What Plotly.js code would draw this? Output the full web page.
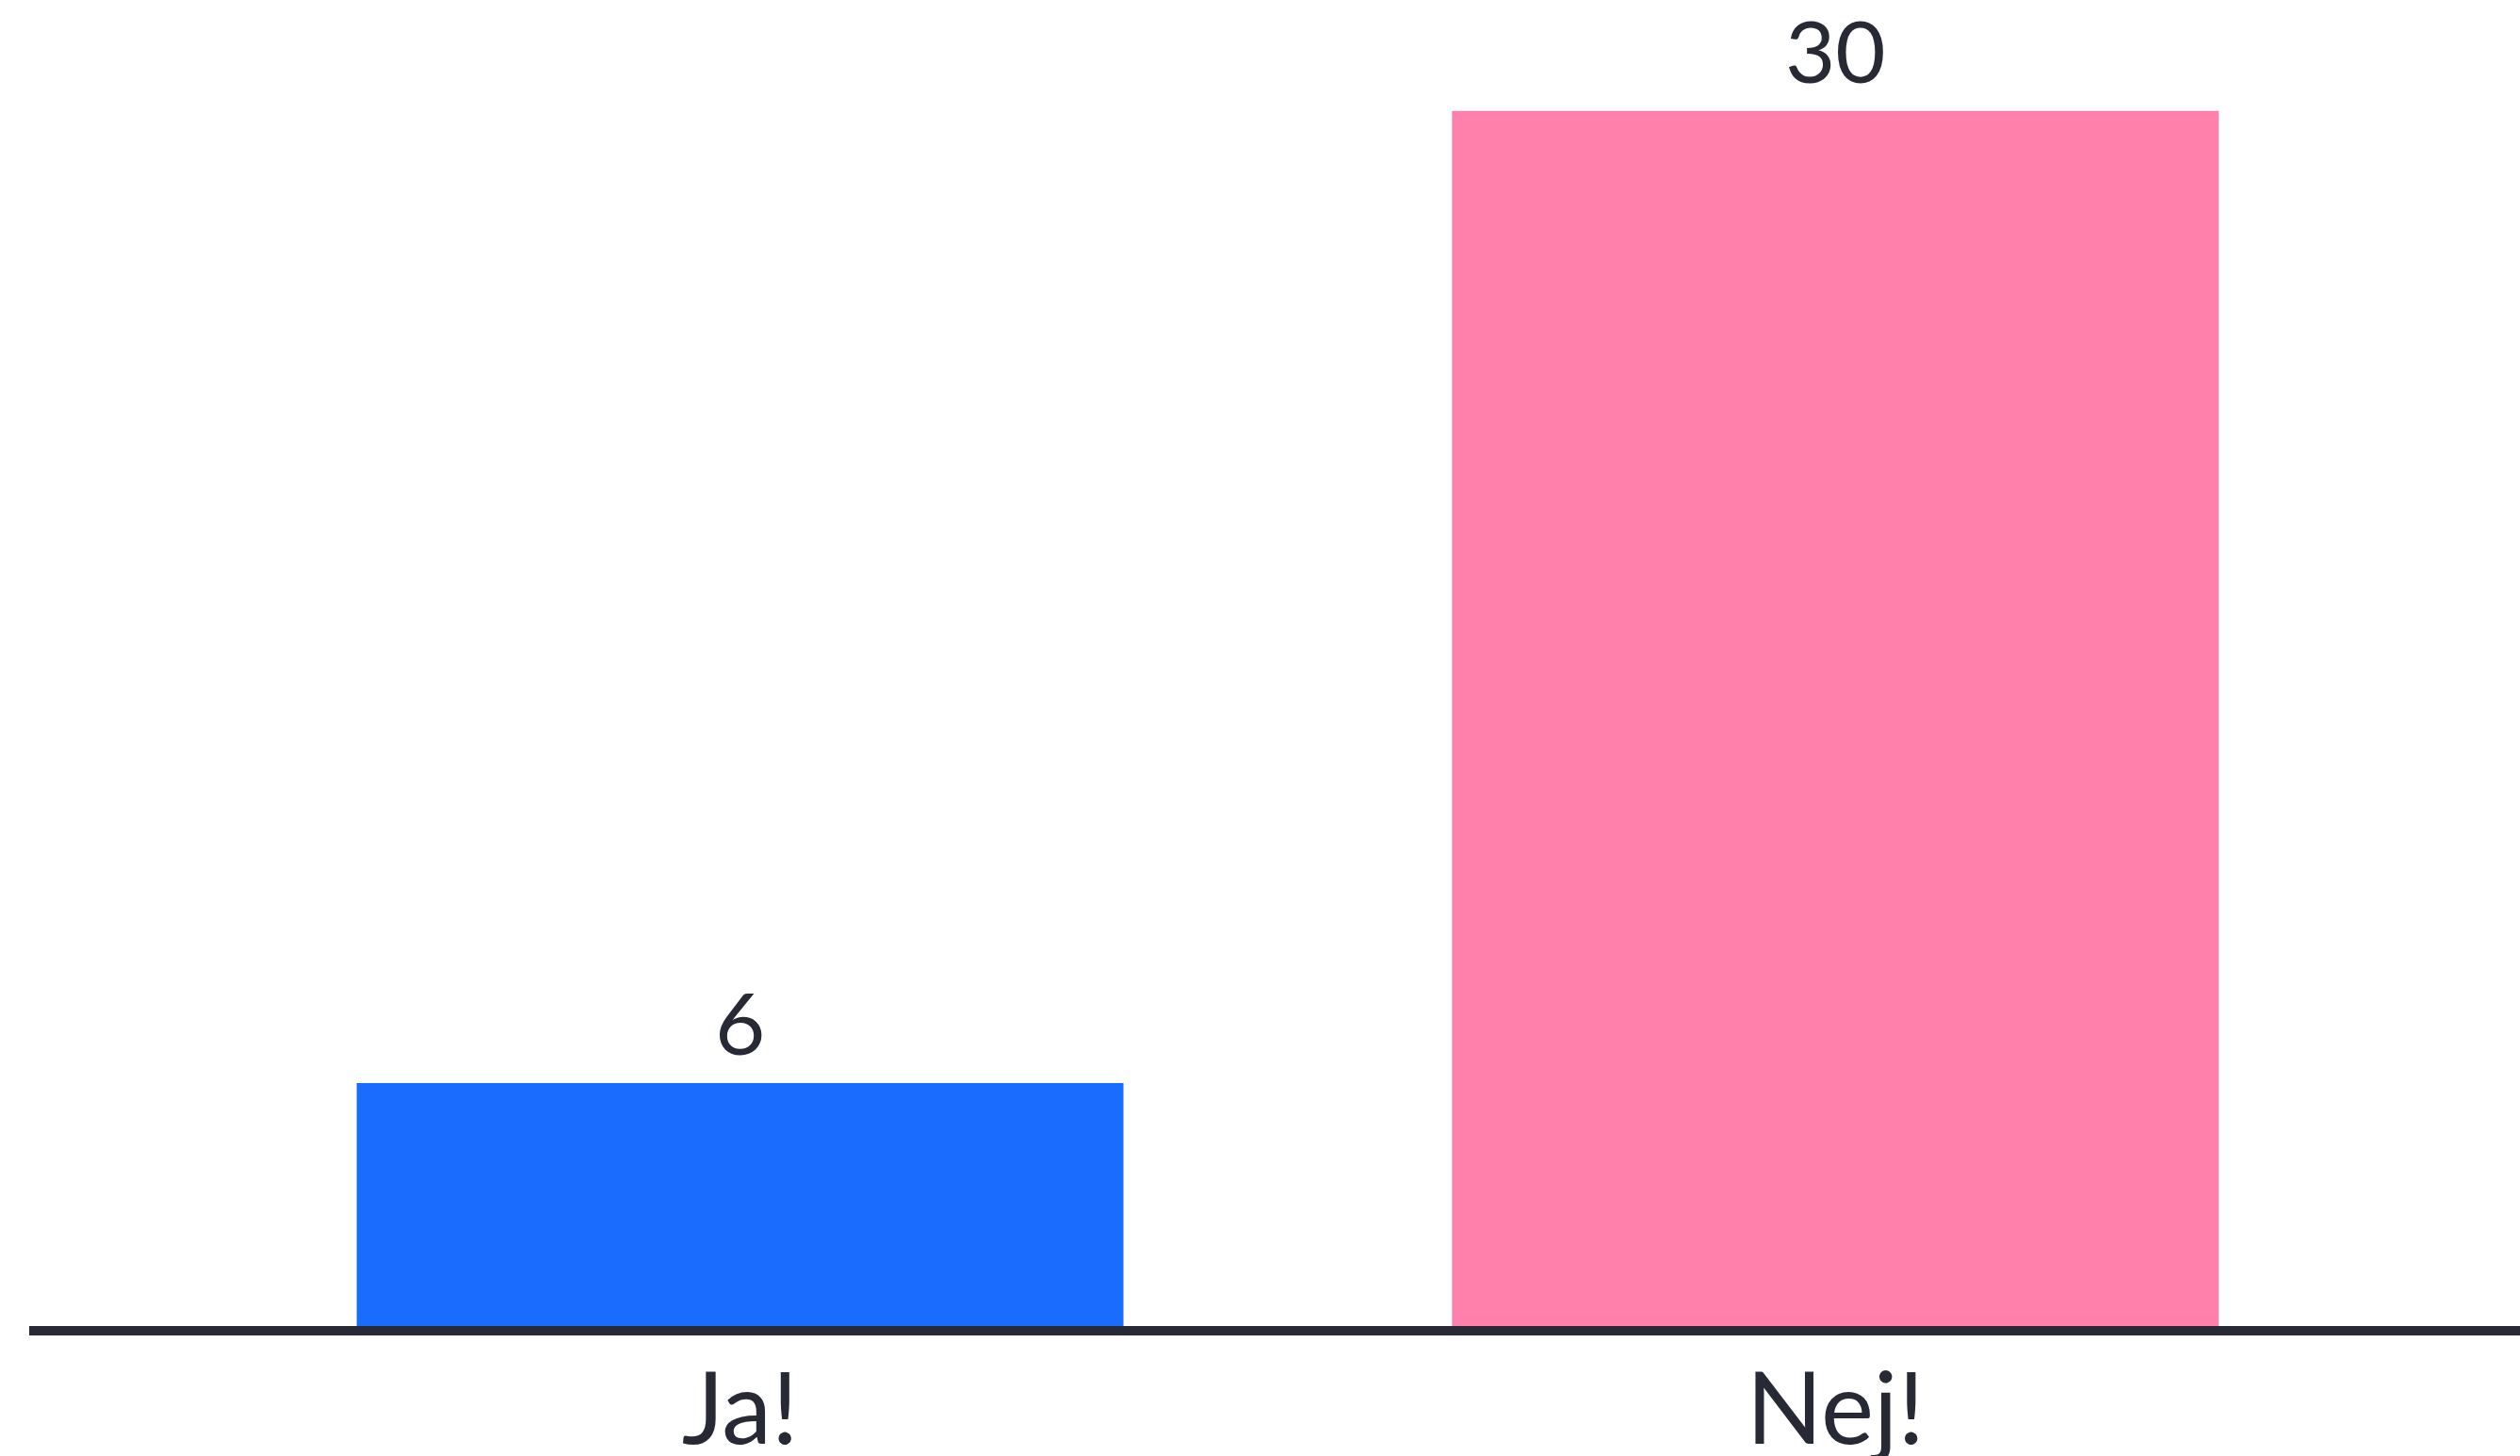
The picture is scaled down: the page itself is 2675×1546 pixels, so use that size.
<!DOCTYPE html>
<html>
<head>
<meta charset="utf-8">
<script src="https://cdn.plot.ly/plotly-3.0.1.min.js"></script>
<style>
html,body{margin:0;padding:0;background:#ffffff;}
#chart{width:2675px;height:1546px;}
</style>
</head>
<body>
<div id="chart"></div>
<script>
const categories = ["Ja!", "Nej!"];
const values = [6, 30];
const barColors = ["#1a6cff", "#ff80aa"];

const textColor = "#272a35";

const trace = {
  type: "bar",
  x: categories,
  y: values,
  marker: {color: barColors, line: {width: 0}},
  hoverinfo: "none",
  showlegend: false
};

const annotations = categories.map((c, i) => ({
  x: c,
  y: values[i],
  xref: "x",
  yref: "y",
  text: String(values[i]),
  showarrow: false,
  yanchor: "bottom",
  xanchor: "center",
  yshift: 8,
  font: {family: "Lato, 'Noto Sans', sans-serif", size: 92, color: textColor}
}));

const layout = {
  width: 2675,
  height: 1546,
  margin: {l: 31, r: 0, t: 0, b: 138},
  paper_bgcolor: "#ffffff",
  plot_bgcolor: "#ffffff",
  bargap: 0.3,
  xaxis: {
    type: "category",
    range: [-0.649, 1.625],
    showline: true,
    linecolor: textColor,
    linewidth: 10,
    showgrid: false,
    zeroline: false,
    ticks: "",
    ticklabelstandoff: -12,
    tickfont: {family: "Lato, 'Noto Sans', sans-serif", size: 106, color: textColor},
    fixedrange: true
  },
  yaxis: {
    range: [0, 32.74],
    visible: false,
    showgrid: false,
    zeroline: false,
    fixedrange: true
  },
  annotations: annotations
};

Plotly.newPlot("chart", [trace], layout, {displayModeBar: false, staticPlot: true});
</script>
</body>
</html>
